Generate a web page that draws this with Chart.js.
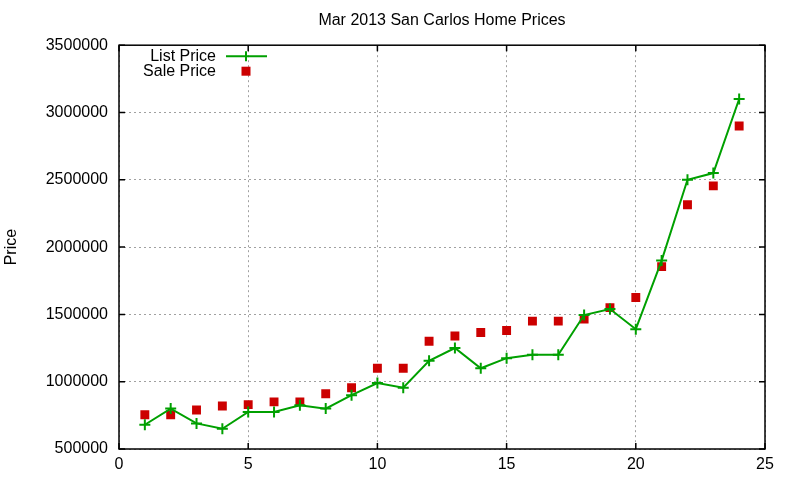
<!DOCTYPE html>
<html>
<head>
<meta charset="utf-8">
<script src="https://cdn.jsdelivr.net/npm/chart.js@4"></script>
<style>
  html, body { margin: 0; padding: 0; background: #fff; }
  canvas { display: block; }
</style>
</head>
<body>
<canvas id="chart" width="800" height="480"></canvas>
<script>
// values
const days = [1, 2, 3, 4, 5, 6, 7, 8, 9, 10, 11, 12, 13, 14, 15, 16, 17, 18, 19, 20, 21, 22, 23, 24];
const listPrices = [680000, 800000, 690000, 650000, 775000, 775000, 825000, 800000, 900000, 990000, 955000, 1155000,
  1250000, 1100000, 1175000, 1200000, 1200000, 1495000, 1540000, 1390000, 1900000, 2500000, 2550000, 3100000];
const salePrices = [755000, 755000, 790000, 820000, 830000, 850000, 850000, 910000, 955000, 1100000, 1100000, 1300000,
  1340000, 1365000, 1380000, 1450000, 1450000, 1465000, 1550000, 1625000, 1855000, 2315000, 2455000, 2900000];
const xTicks = [0, 5, 10, 15, 20, 25];
const yTicks = [500000, 1000000, 1500000, 2000000, 2500000, 3000000, 3500000];

const FONT = 'Liberation Sans, Arial, sans-serif';
const GREEN = '#00a000';
const RED = '#cc0000';

// gnuplot style frame: full box with inward ticks on all sides
const frame = {
  id: 'frame',
  afterDraw(chart) {
    const { ctx, chartArea: a, scales } = chart;
    ctx.save();
    ctx.strokeStyle = '#000';
    ctx.lineWidth = 1.5;
    ctx.strokeRect(a.left, a.top, a.right - a.left, a.bottom - a.top);
    ctx.beginPath();
    xTicks.forEach(v => {
      const px = scales.x.getPixelForValue(v);
      ctx.moveTo(px, a.bottom); ctx.lineTo(px, a.bottom - 6);
      ctx.moveTo(px, a.top); ctx.lineTo(px, a.top + 6);
    });
    yTicks.forEach(v => {
      const py = scales.y.getPixelForValue(v);
      ctx.moveTo(a.left, py); ctx.lineTo(a.left + 6, py);
      ctx.moveTo(a.right, py); ctx.lineTo(a.right - 6, py);
    });
    ctx.stroke();

    // key in the top left corner
    const textRight = a.left + 97;
    const sampleX = a.left + 127;
    const y1 = a.top + 11;
    const y2 = a.top + 26;
    ctx.font = '16px ' + FONT;
    ctx.fillStyle = '#000';
    ctx.textAlign = 'right';
    ctx.textBaseline = 'middle';
    ctx.fillText(chart.data.datasets[0].label, textRight, y1);
    ctx.fillText(chart.data.datasets[1].label, textRight, y2);
    ctx.strokeStyle = GREEN;
    ctx.lineWidth = 2;
    ctx.beginPath();
    ctx.moveTo(sampleX - 20, y1); ctx.lineTo(sampleX + 21, y1);
    ctx.moveTo(sampleX, y1 - 5); ctx.lineTo(sampleX, y1 + 5);
    ctx.stroke();
    ctx.fillStyle = RED;
    ctx.fillRect(sampleX - 4.5, y2 - 4.5, 9, 9);
    ctx.restore();
  }
};

new Chart(document.getElementById('chart'), {
  type: 'line',
  data: {
    datasets: [{
      label: 'List Price',
      data: days.map((d, i) => ({ x: d, y: listPrices[i] })),
      borderColor: GREEN,
      backgroundColor: GREEN,
      borderWidth: 2,
      pointStyle: 'cross',
      pointRadius: 5.5,
      pointBorderWidth: 2,
      tension: 0,
      fill: false
    }, {
      label: 'Sale Price',
      data: days.map((d, i) => ({ x: d, y: salePrices[i] })),
      showLine: false,
      borderColor: RED,
      backgroundColor: RED,
      pointStyle: 'rect',
      pointRadius: 6.3,
      pointBorderWidth: 0
    }]
  },
  options: {
    responsive: false,
    animation: false,
    devicePixelRatio: 1,
    layout: { padding: { left: 0, right: 35, top: 0, bottom: 0 } },
    plugins: {
      legend: { display: false },
      tooltip: { enabled: false },
      title: {
        display: true,
        fullSize: false,
        text: 'Mar 2013 San Carlos Home Prices',
        color: '#000',
        font: { family: FONT, size: 16, weight: 'normal' },
        padding: { top: 11, bottom: 15 }
      }
    },
    scales: {
      x: {
        type: 'linear',
        min: 0,
        max: 25,
        afterFit(scale) { scale.height = 31; },
        afterBuildTicks(scale) { scale.ticks = xTicks.map(v => ({ value: v })); },
        grid: { color: '#a0a0a0', lineWidth: 1, drawTicks: false },
        border: { display: false, dash: [2, 3] },
        ticks: { color: '#000', padding: 6, font: { family: FONT, size: 16 } }
      },
      y: {
        type: 'linear',
        min: 500000,
        max: 3500000,
        afterFit(scale) { scale.width = 119; },
        afterBuildTicks(scale) { scale.ticks = yTicks.map(v => ({ value: v })); },
        grid: { color: '#a0a0a0', lineWidth: 1, drawTicks: false },
        border: { display: false, dash: [2, 3] },
        title: {
          display: true,
          text: 'Price',
          color: '#000',
          font: { family: FONT, size: 16 },
          padding: { top: 2, bottom: 0 }
        },
        ticks: {
          color: '#000',
          padding: 11,
          font: { family: FONT, size: 16 },
          callback: v => String(v)
        }
      }
    }
  },
  plugins: [frame]
});
</script>
</body>
</html>
